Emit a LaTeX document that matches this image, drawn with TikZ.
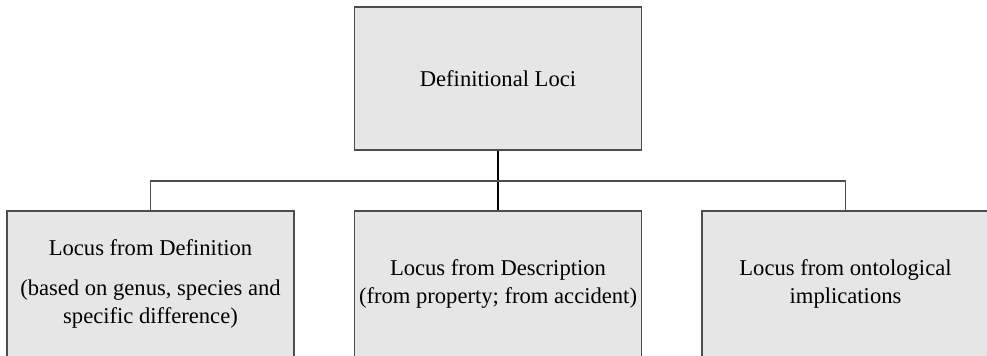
\documentclass[tikz,border=0pt]{standalone}
\usepackage{fontspec}
\setmainfont{Liberation Serif}
\usepackage{tikz}

\definecolor{boxfill}{HTML}{E6E6E6}
\definecolor{boxline}{HTML}{4D4D4D}

\tikzset{
    locusbox/.style={draw=boxline, fill=boxfill, line width=0.6pt, align=center,
        minimum width=143.5pt, minimum height=73pt, inner sep=0pt,
        font=\fontsize{11.3}{14}\selectfont},
    branch/.style={draw=boxline, line width=0.6pt}
}

\begin{document}
\begin{tikzpicture}[x=0.5pt, y=-0.5pt]
        \useasboundingbox (0,0) rectangle (987,355);
        % top box
        \node[locusbox, minimum height=71.5pt] (top) at (498,78.5) {Definitional Loci};
        % three boxes below
        \node[locusbox] (def) at (150.5,284) {Locus from Definition\\[6pt]
            (based on genus, species and\\ specific difference)};
        \node[locusbox] (desc) at (498,284) {Locus from Description\\(from property; from accident)};
        \node[locusbox] (onto) at (845.5,284) {Locus from ontological\\implications};
        % connectors
        \coordinate (bar) at (498,181);
        \draw[branch, draw=black] (top.south) -- (desc.north);
        \draw[branch] (def.north) |- (bar) -| (onto.north);
    \end{tikzpicture}
\end{document}
